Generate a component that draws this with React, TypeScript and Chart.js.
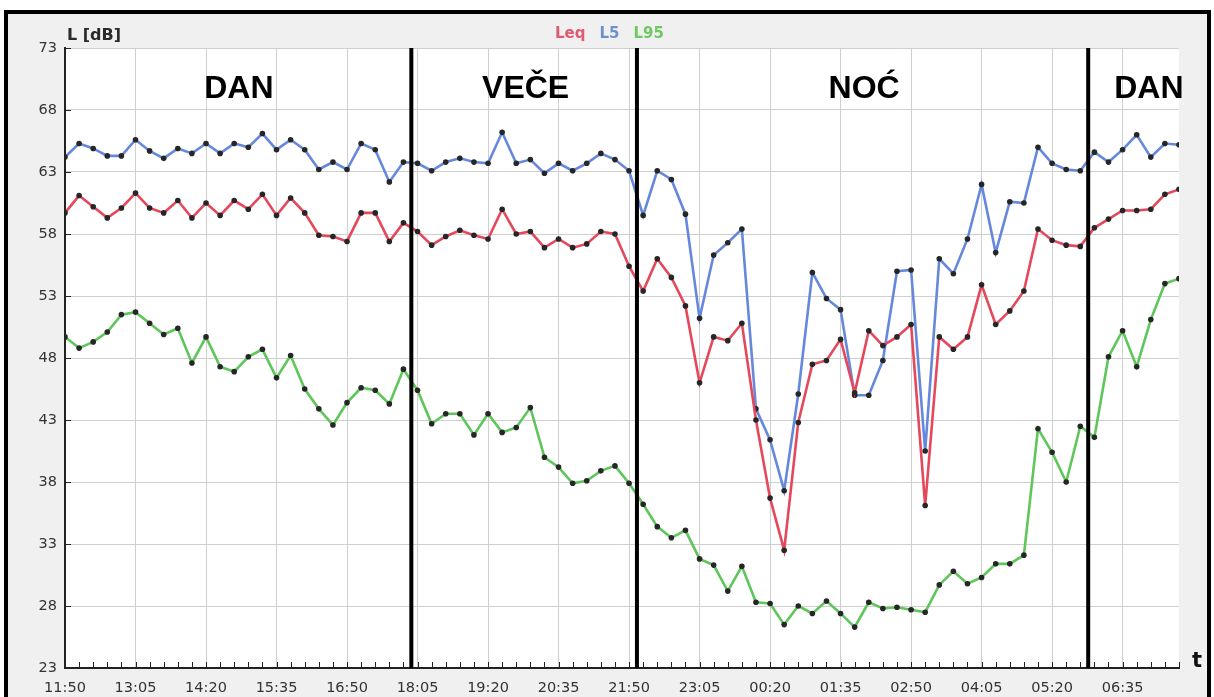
import React, { useEffect, useRef } from 'react';
import { Chart, registerables } from 'chart.js';

Chart.register(...registerables);

// x values are minutes counted from the first sample (11:50), one sample every 15 minutes
const STEP = 15;
const LABEL_EVERY = 75;
const tickLabels = ['11:50', '13:05', '14:20', '15:35', '16:50', '18:05', '19:20', '20:35', '21:50', '23:05', '00:20', '01:35', '02:50', '04:05', '05:20', '06:35'];

const seriesNames = ['Leq', 'L5', 'L95'];

const leq = [
  59.7, 61.1, 60.2, 59.3, 60.1, 61.3, 60.1, 59.7, 60.7, 59.3, 60.5, 59.5, 60.7, 60.0, 61.2, 59.5, 60.9, 59.7, 57.9, 57.8,
  57.4, 59.7, 59.7, 57.4, 58.9, 58.2, 57.1, 57.8, 58.3, 57.9, 57.6, 60.0, 58.0, 58.2, 56.9, 57.6, 56.9, 57.2, 58.2, 58.0,
  55.4, 53.4, 56.0, 54.5, 52.2, 46.0, 49.7, 49.4, 50.8, 43.0, 36.7, 32.5, 42.8, 47.5, 47.8, 49.5, 45.2, 50.2, 49.0, 49.7,
  50.7, 36.1, 49.7, 48.7, 49.7, 53.9, 50.7, 51.8, 53.4, 58.4, 57.5, 57.1, 57.0, 58.5, 59.2, 59.9, 59.9, 60.0, 61.2, 61.6,
];

const l5 = [
  64.2, 65.3, 64.9, 64.3, 64.3, 65.6, 64.7, 64.1, 64.9, 64.5, 65.3, 64.5, 65.3, 65.0, 66.1, 64.8, 65.6, 64.8, 63.2, 63.8,
  63.2, 65.3, 64.8, 62.2, 63.8, 63.7, 63.1, 63.8, 64.1, 63.8, 63.7, 66.2, 63.7, 64.0, 62.9, 63.7, 63.1, 63.7, 64.5, 64.0,
  63.1, 59.5, 63.1, 62.4, 59.6, 51.2, 56.3, 57.3, 58.4, 43.9, 41.4, 37.3, 45.1, 54.9, 52.8, 51.9, 45.0, 45.0, 47.8, 55.0,
  55.1, 40.5, 56.0, 54.8, 57.6, 62.0, 56.5, 60.6, 60.5, 65.0, 63.7, 63.2, 63.1, 64.6, 63.8, 64.8, 66.0, 64.2, 65.3, 65.2,
];

const l95 = [
  49.7, 48.8, 49.3, 50.1, 51.5, 51.7, 50.8, 49.9, 50.4, 47.6, 49.7, 47.3, 46.9, 48.1, 48.7, 46.4, 48.2, 45.5, 43.9, 42.6,
  44.4, 45.6, 45.4, 44.3, 47.1, 45.4, 42.7, 43.5, 43.5, 41.8, 43.5, 42.0, 42.4, 44.0, 40.0, 39.2, 37.9, 38.1, 38.9, 39.3,
  37.9, 36.2, 34.4, 33.5, 34.1, 31.8, 31.3, 29.2, 31.2, 28.3, 28.2, 26.5, 28.0, 27.4, 28.4, 27.4, 26.3, 28.3, 27.8, 27.9,
  27.7, 27.5, 29.7, 30.8, 29.8, 30.3, 31.4, 31.4, 32.1, 42.3, 40.4, 38.0, 42.5, 41.6, 48.1, 50.2, 47.3, 51.1, 54.0, 54.4,
];

// period boundaries (18:00, 22:00, 06:00) in minutes from 11:50
const boundaries = [370, 610, 1090];
const periodLabels = ['DAN', 'VEČE', 'NOĆ', 'DAN'];
const periodCenters = [185, 490, 850, 1153];

const Y_MIN = 23;
const Y_MAX = 73;
const Y_STEP = 5;

const lineColors = ['#e4485a', '#6688dc', '#5ec65a'];
const legendColors = ['#e05a70', '#7090cc', '#70c864'];

const FONT = "'DejaVu Sans', Verdana, sans-serif";

const decorPlugin = {
  id: 'decor',
  beforeDraw(chart: any) {
    const { ctx, chartArea: a, width, height } = chart;
    ctx.save();
    ctx.fillStyle = '#ffffff';
    ctx.fillRect(0, 0, width, height);
    ctx.fillStyle = '#f0f0f0';
    ctx.fillRect(6, 12, width - 11, height);
    ctx.fillStyle = '#ffffff';
    ctx.fillRect(a.left, a.top, a.right - a.left, a.bottom - a.top);
    ctx.restore();
  },
  afterDraw(chart: any) {
    const { ctx, chartArea: a, width, height } = chart;
    const xs = chart.scales.x;
    const ys = chart.scales.y;
    ctx.save();

    // small tick marks along the x axis (one per sample)
    ctx.strokeStyle = '#222';
    ctx.lineWidth = 1;
    const n = leq.length;
    for (let i = 0; i < n; i++) {
      const px = Math.round(xs.getPixelForValue(i * STEP)) + 0.5;
      ctx.beginPath();
      ctx.moveTo(px, a.bottom);
      ctx.lineTo(px, a.bottom - 6);
      ctx.stroke();
    }
    // inward tick marks on the y axis
    ys.ticks.forEach((t: any) => {
      const py = Math.round(ys.getPixelForValue(t.value)) + 0.5;
      ctx.beginPath();
      ctx.moveTo(a.left, py);
      ctx.lineTo(a.left + 6, py);
      ctx.stroke();
    });

    // period boundary lines
    ctx.strokeStyle = '#000';
    ctx.lineWidth = 4;
    boundaries.forEach((b) => {
      const px = xs.getPixelForValue(b) - 1.5;
      ctx.beginPath();
      ctx.moveTo(px, a.top);
      ctx.lineTo(px, a.bottom);
      ctx.stroke();
    });

    // period labels
    ctx.fillStyle = '#000';
    ctx.font = "bold 32px 'Liberation Sans', Arial, sans-serif";
    ctx.textAlign = 'center';
    ctx.textBaseline = 'alphabetic';
    periodLabels.forEach((lab, k) => {
      ctx.fillText(lab, xs.getPixelForValue(periodCenters[k]), a.top + 50);
    });

    // legend (coloured text only)
    ctx.font = `bold 15px ${FONT}`;
    ctx.textAlign = 'left';
    const gap = 14;
    const widths = seriesNames.map((s) => ctx.measureText(s).width);
    const total = widths.reduce((p, c) => p + c, 0) + gap * (seriesNames.length - 1);
    let lx = 609.5 - total / 2;
    seriesNames.forEach((s, k) => {
      ctx.fillStyle = legendColors[k];
      ctx.fillText(s, lx, 38);
      lx += widths[k] + gap;
    });

    // axis titles
    ctx.fillStyle = '#2a2a2a';
    ctx.font = `bold 16px ${FONT}`;
    ctx.fillText('L [dB]', 67, 40);
    ctx.fillStyle = '#111';
    ctx.font = `bold 21px ${FONT}`;
    ctx.fillText('t', 1192, 667);

    // outer frame
    ctx.strokeStyle = '#000';
    ctx.lineWidth = 4;
    ctx.strokeRect(6, 12, width - 11, height + 10);
    ctx.restore();
  },
};

export default function App() {
  const canvasRef = useRef<HTMLCanvasElement | null>(null);

  useEffect(() => {
    document.body.style.margin = '0';
    const canvas = canvasRef.current;
    if (!canvas) return;
    const series = [leq, l5, l95];
    const chart = new Chart(canvas, {
      type: 'line',
      data: {
        datasets: series.map((arr, k) => ({
          label: seriesNames[k],
          data: arr.map((v, i) => ({ x: i * STEP, y: v })),
          borderColor: lineColors[k],
          backgroundColor: lineColors[k],
          borderWidth: 2.6,
          pointRadius: 2.8,
          pointBackgroundColor: '#262626',
          pointBorderWidth: 0,
          pointHoverRadius: 2.8,
          tension: 0,
          fill: false,
        })),
      },
      options: {
        animation: false,
        responsive: false,
        maintainAspectRatio: false,
        layout: { padding: { top: 48, right: 35, left: 0, bottom: 0 } },
        plugins: {
          legend: { display: false },
          tooltip: { enabled: false },
        },
        scales: {
          x: {
            type: 'linear',
            min: 0,
            max: (leq.length - 1) * STEP,
            afterFit: (s: any) => {
              s.height = 29;
            },
            ticks: {
              stepSize: STEP,
              autoSkip: false,
              maxRotation: 0,
              padding: 12,
              color: '#333',
              font: { family: FONT, size: 14.5 },
              callback: (v: any) => {
                const val = Number(v);
                if (val % LABEL_EVERY !== 0) return '';
                return tickLabels[val / LABEL_EVERY] ?? '';
              },
            },
            grid: {
              drawTicks: false,
              lineWidth: 1,
              color: (c: any) => (c.tick && c.tick.value % LABEL_EVERY === 0 ? '#cfcfcf' : 'rgba(0,0,0,0)'),
            },
            border: { color: '#222', width: 2 },
          },
          y: {
            type: 'linear',
            min: Y_MIN,
            max: Y_MAX,
            afterFit: (s: any) => {
              s.width = 65;
            },
            ticks: {
              stepSize: Y_STEP,
              padding: 8,
              color: '#333',
              font: { family: FONT, size: 14.5 },
            },
            grid: { drawTicks: false, color: '#cfcfcf', lineWidth: 1 },
            border: { color: '#222', width: 2 },
          },
        },
      },
      plugins: [decorPlugin],
    });
    return () => chart.destroy();
  }, []);

  return (
    <div style={{ width: 1214, height: 697 }}>
      <canvas ref={canvasRef} width={1214} height={697} style={{ display: 'block' }} />
    </div>
  );
}
